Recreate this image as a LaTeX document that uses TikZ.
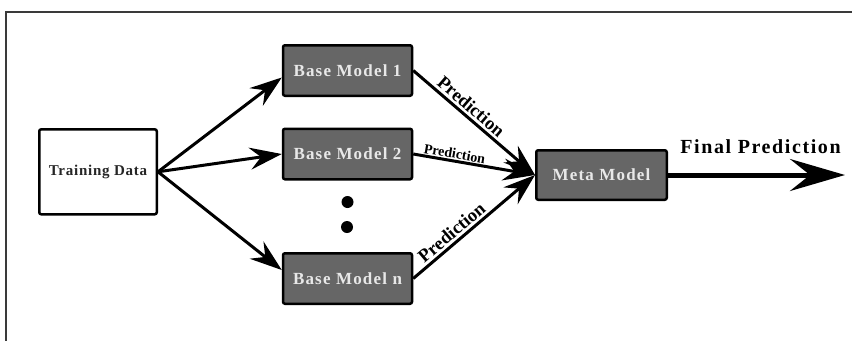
\documentclass[tikz,border=0pt]{standalone}
\usepackage{fontspec}
\setmainfont{Liberation Serif}
\newfontfamily\boxfont[LetterSpace=7]{Liberation Serif}
\newfontfamily\trainfont[LetterSpace=5]{Liberation Serif}
\newfontfamily\finalfont[LetterSpace=8]{Liberation Serif}
\usetikzlibrary{arrows.meta}
\definecolor{boxgray}{HTML}{666666}
\definecolor{boxtext}{HTML}{E8E8E8}
\definecolor{framegray}{HTML}{3A3A3A}
\begin{document}
\begin{tikzpicture}[x=1pt,y=-1pt,
  gbox/.style={draw=black, line width=2.5pt, rounded corners=2pt, fill=boxgray, text=boxtext,
    minimum width=129pt, minimum height=50.5pt, inner sep=0pt,
    font=\boxfont\bfseries\fontsize{17}{20}\selectfont},
  wbox/.style={draw=black, line width=2.5pt, rounded corners=2pt, fill=white, text=black!85,
    minimum width=117.5pt, minimum height=85pt, inner sep=0pt,
    font=\trainfont\bfseries\fontsize{15}{18}\selectfont},
  arr/.style={line width=3pt, -{Stealth[length=32pt,width=22pt,inset=11pt]}},
  bigarr/.style={line width=5pt, -{Stealth[length=55pt,width=32pt,inset=20pt]}},
  plabel/.style={font=\bfseries\fontsize{18.5}{22}\selectfont, inner sep=1pt},
  psmall/.style={font=\bfseries\fontsize{14}{16}\selectfont, inner sep=1pt},
  dotstyle/.style={circle, fill=black, inner sep=0pt, minimum size=12pt}
]
\useasboundingbox (0,0) rectangle (852,341);
\fill[white] (0,0) rectangle (852,341);
\draw[line width=2pt, framegray] (852,12) -- (6,12) -- (6,341);

\node[wbox] (train) at (98,171.8) {Training Data};
\node[gbox] (b1) at (347.5,70.5) {Base Model 1};
\node[gbox] (b2) at (347.5,154) {Base Model 2};
\node[gbox] (bn) at (347.5,278.5) {Base Model n};
\node[gbox, minimum width=130.5pt, minimum height=49.5pt] (meta) at (601.5,175) {Meta Model};
\node[dotstyle] (d1) at (347.5,202) {};
\node[dotstyle] (d2) at (347,227) {};
\coordinate (fend) at (845,175);
\node[font=\finalfont\bfseries\fontsize{20}{24}\selectfont, anchor=base, inner sep=0pt] (flabel) at (760.5,153) {Final Prediction};

\draw[arr] (train.east) -- ([yshift=-7pt]b1.west);
\draw[arr] (train.east) -- (b2.west);
\draw[arr] (train.east) -- ([yshift=8.5pt]bn.west);

\draw[arr] (b1.east) -- node[plabel, sloped, above=1.5pt, pos=0.42] (p1) {Prediction} (meta.west);
\draw[arr] (b2.east) -- node[psmall, sloped, above=0pt, pos=0.33] (p2) {Prediction} (meta.west);
\draw[arr] (bn.east) -- node[plabel, sloped, above=1.5pt, pos=0.37] (p3) {Prediction} (meta.west);

\draw[bigarr] (meta.east) -- (fend);
\end{tikzpicture}
\end{document}
